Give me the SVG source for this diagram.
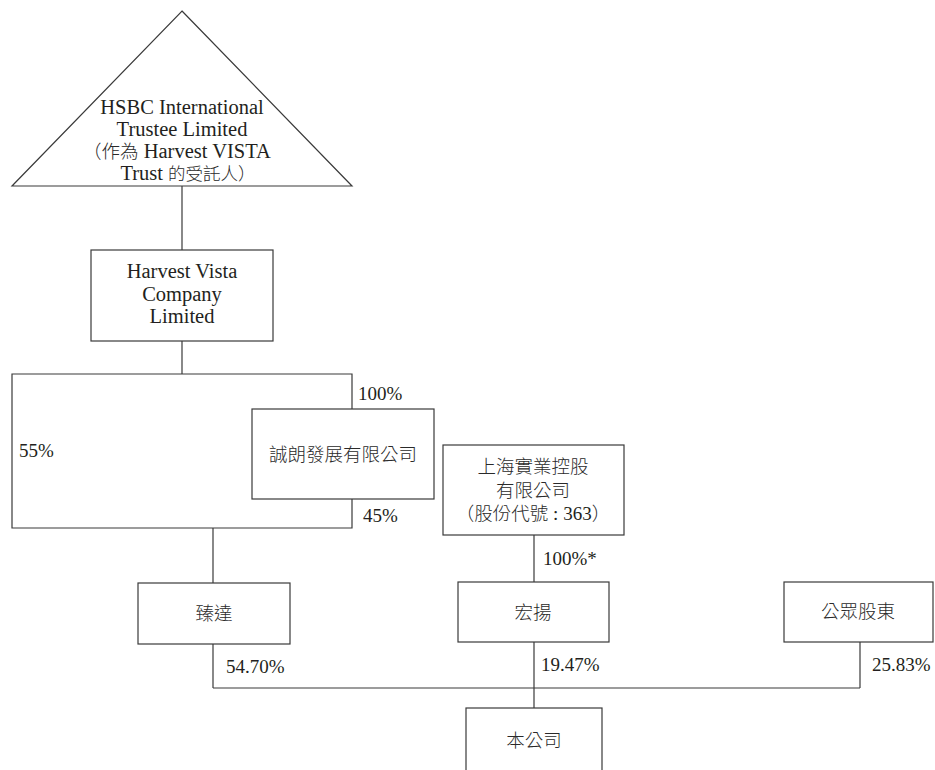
<svg xmlns="http://www.w3.org/2000/svg" width="935" height="770" viewBox="0 0 935 770">
<style>
.s{fill:#fff;stroke:#3a3a3a;stroke-width:1.2}
.l{fill:none;stroke:#3a3a3a;stroke-width:1.2}
text{font-family:"Liberation Serif","Noto Sans CJK TC",serif;font-size:19px;fill:#231f20}
.n{font-size:20.5px}
.c{font-family:"Noto Sans CJK TC","Liberation Serif",sans-serif;font-size:18.5px;font-weight:300;fill:#2a2a2a}
.t{font-size:17.5px}
.m{text-anchor:middle}
</style>
<rect width="935" height="770" fill="#fff"/>
<g id="connectors">
<line class="l" x1="182" y1="186" x2="182" y2="250"/>
<line class="l" x1="182" y1="341" x2="182" y2="374"/>
<polyline class="l" points="352,409 352,374 12,374 12,528 352,528 352,499"/>
<line class="l" x1="213" y1="528" x2="213" y2="583"/>
<line class="l" x1="534" y1="535" x2="534" y2="582"/>
<line class="l" x1="213" y1="644" x2="213" y2="688"/>
<line class="l" x1="860" y1="642" x2="860" y2="688"/>
<line class="l" x1="213" y1="688" x2="860" y2="688"/>
<line class="l" x1="534" y1="642" x2="534" y2="708"/>
<text x="358" y="400">100%</text>
<text x="19" y="457">55%</text>
<text x="363" y="522">45%</text>
<text x="543" y="565">100%*</text>
<text x="226" y="673">54.70%</text>
<text x="541" y="671">19.47%</text>
<text x="872" y="671">25.83%</text>
</g>
<g id="hsbc">
<polygon class="s" points="182,11 352,186 12,186"/>
<text class="n m" x="182" y="114">HSBC International</text>
<text class="n m" x="182" y="136">Trustee Limited</text>
<text class="n m" x="177" y="158"><tspan class="c">（作為</tspan> Harvest VISTA</text>
<text class="n m" x="188" y="180">Trust <tspan class="c t">的受託人）</tspan></text>
</g>
<g id="harvest">
<rect class="s" x="91" y="250" width="182" height="91"/>
<text class="n m" x="182" y="278">Harvest Vista</text>
<text class="n m" x="182" y="301">Company</text>
<text class="n m" x="182" y="323">Limited</text>
</g>
<g id="chenglang">
<rect class="s" x="252" y="409" width="182" height="90"/>
<text class="c m" x="343" y="461">誠朗發展有限公司</text>
</g>
<g id="sih">
<rect class="s" x="443" y="445" width="181" height="90"/>
<text class="c m" x="533" y="473">上海實業控股</text>
<text class="c m" x="533" y="497">有限公司</text>
<text class="m" x="533" y="520"><tspan class="c">（股份代號</tspan> : 363<tspan class="c">）</tspan></text>
</g>
<g id="zhenda">
<rect class="s" x="138" y="583" width="152" height="61"/>
<text class="c m" x="214" y="620">臻達</text>
</g>
<g id="hongyang">
<rect class="s" x="458" y="582" width="151" height="60"/>
<text class="c m" x="533" y="619">宏揚</text>
</g>
<g id="public">
<rect class="s" x="784" y="582" width="149" height="60"/>
<text class="c m" x="858" y="618">公眾股東</text>
</g>
<g id="company">
<rect class="s" x="466" y="708" width="136" height="70"/>
<text class="c m" x="534" y="747">本公司</text>
</g>
</svg>
